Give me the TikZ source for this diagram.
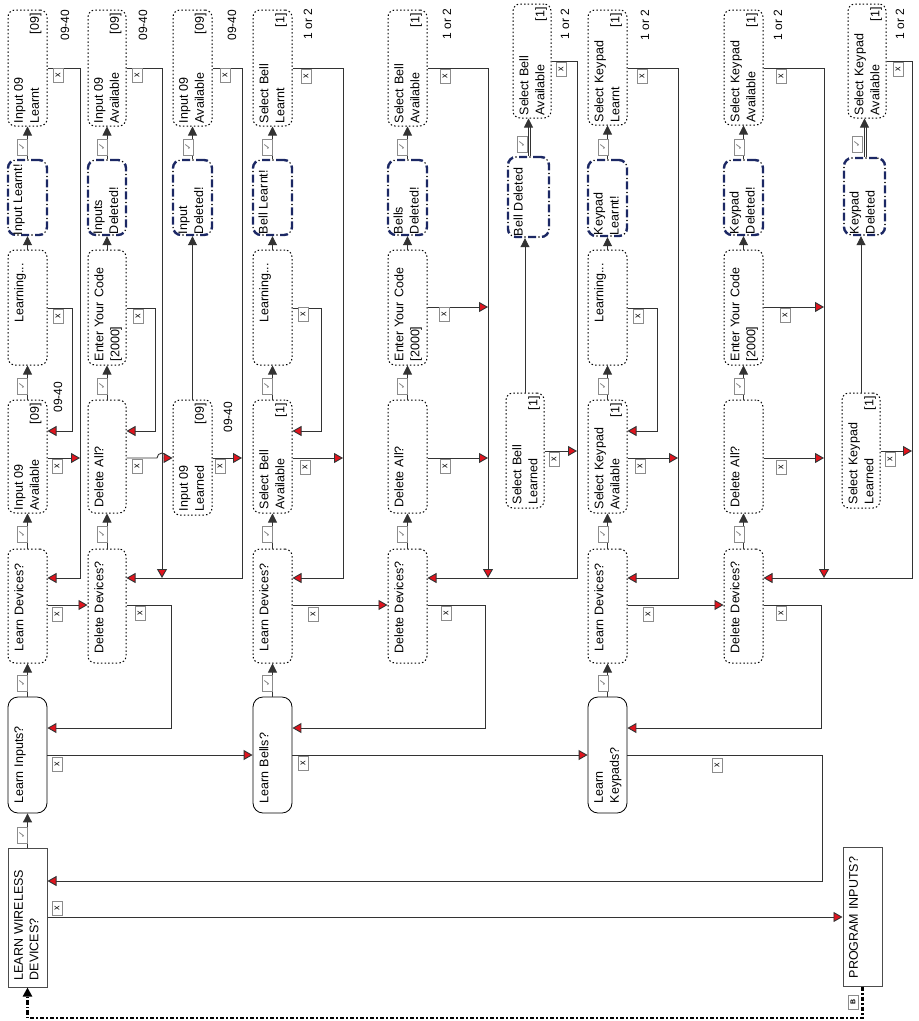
\documentclass[tikz,border=0pt]{standalone}
\usepackage{fontspec}
\usepackage{graphicx}
\setmainfont{Liberation Sans}
\newfontfamily\dejavu{DejaVu Sans}
\usetikzlibrary{arrows.meta,calc}
\definecolor{navyb}{RGB}{28,40,100}
\definecolor{arrred}{RGB}{225,20,30}
\newcounter{tg}
\newcommand\mybox[9]{%
 \pgfmathsetmacro\bw{#5-#3}\pgfmathsetmacro\bh{#6-#4}%
 \pgfmathsetmacro\cx{(#3+#5)/2}\pgfmathsetmacro\cy{(#4+#6)/2}%
 \pgfmathsetmacro\tw{#6-#4-#7-3}%
 \node[#1, minimum width=\bw pt, minimum height=\bh pt] (#2) at (\cx,\cy) {};
 \node[txt, text width=\tw pt, #8] (#2-t) at ([xshift=6.5pt,yshift=#7pt]#2.south west) {#9};}
\newcommand\tagck[2]{\stepcounter{tg}\node[ckst] (tg\thetg) at (#1,#2) {\rotatebox{90}{\dejavu\fontsize{9}{9}\selectfont ✓}};}
\newcommand\tagx[2]{\stepcounter{tg}\node[xst] (tg\thetg) at (#1,#2) {\rotatebox{90}{\fontsize{9}{9}\selectfont x}};}
\newcommand\lbl[4]{\node[lblst] (#1) at (#2,#3) {#4};}
\newcommand\rt{\hskip0pt plus1filll}
\tikzset{
 dotbox/.style={draw=black, line width=1pt, dash pattern=on 1.5pt off 2.2pt, rounded corners=7pt, inner sep=0pt},
 solbox/.style={draw=black, line width=0.8pt, rounded corners=10pt, inner sep=0pt},
 recbox/.style={draw=black!70, line width=1pt, inner sep=0pt},
 bluebox/.style={draw=navyb, line width=2.4pt, dash pattern=on 8pt off 6pt, rounded corners=8pt, inner sep=0pt,
   postaction={draw=black, line width=1.7pt, line cap=round, dash pattern=on 0pt off 14pt, dash phase=3pt}},
 txt/.style={rotate=90, anchor=north west, align=left, inner sep=0pt, font=\fontsize{12.5}{16}\selectfont},
 big/.style={font=\fontsize{12.5}{15.5}\selectfont},
 lblst/.style={rotate=90, inner sep=0pt, font=\fontsize{12}{14}\selectfont},
 ckst/.style={draw=black!45, fill=white, line width=0.6pt, inner sep=0pt, minimum width=10pt, minimum height=16pt, text=black!55},
 xst/.style={draw=black!45, fill=white, line width=0.6pt, inner sep=0pt, minimum width=10pt, minimum height=14pt},
 ln/.style={draw=black!80, line width=0.9pt},
 ra/.style={ln, -{Triangle[length=9pt,width=10pt,fill=arrred]}},
 ba/.style={ln, -{Triangle[length=9pt,width=9pt]}},
}
\begin{document}
\begin{tikzpicture}[x=1pt,y=-1pt]
\fill[white] (0,0) rectangle (919,1021);
% ---------- boxes: column A ----------
\mybox{recbox}{lw}{8}{848}{47}{987}{7}{big}{LEARN WIRELESS\\DEVICES?}
\mybox{solbox}{li}{8}{697}{47}{813}{10}{}{Learn Inputs?}
\mybox{dotbox}{ald}{8}{549}{47}{663}{12}{}{Learn Devices?}
\mybox{dotbox}{aia}{8}{400}{47}{513}{3}{}{Input 09\\Available\rt[09]}
\mybox{dotbox}{alg}{8}{250}{47}{365}{43}{}{Learning...}
\mybox{bluebox}{ail}{8}{160}{47}{235}{1}{}{\mbox{Input Learnt!}}
\mybox{dotbox}{ailt}{8}{10}{47}{126}{3}{}{Input 09\\Learnt\rt[09]}
% column A2
\mybox{dotbox}{add}{88}{549}{126}{663}{10}{}{Delete Devices?}
\mybox{dotbox}{ada}{88}{400}{126}{513}{6}{}{Delete All?}
\mybox{dotbox}{aec}{88}{250}{126}{365}{4}{}{Enter Your Code\\{}[2000]}
\mybox{bluebox}{aids}{88}{160}{126}{235}{2}{}{Inputs\\Deleted!}
\mybox{dotbox}{aia2}{88}{10}{126}{126}{3}{}{Input 09\\Available\rt[09]}
% column A3
\mybox{dotbox}{aidl}{173}{400}{212}{515}{4}{}{Input 09\\Learned\rt[09]}
\mybox{bluebox}{aid3}{173}{160}{212}{235}{2}{}{Input\\Deleted!}
\mybox{dotbox}{aia3}{173}{10}{212}{126}{3}{}{Input 09\\Available\rt[09]}
% column B
\mybox{solbox}{lb}{253}{697}{292}{813}{10}{}{Learn Bells?}
\mybox{dotbox}{bld}{253}{549}{292}{663}{12}{}{Learn Devices?}
\mybox{dotbox}{bsa}{253}{400}{292}{513}{4}{}{Select Bell\\Available\rt[1]}
\mybox{dotbox}{blg}{253}{250}{292}{365}{43}{}{Learning...}
\mybox{bluebox}{bbl}{253}{160}{292}{235}{2}{}{\mbox{Bell Learnt!}}
\mybox{dotbox}{bslt}{253}{10}{292}{126}{3}{}{Select Bell\\Learnt\rt[1]}
% column B2
\mybox{dotbox}{bdd}{388}{549}{427}{663}{10}{}{Delete Devices?}
\mybox{dotbox}{bda}{388}{400}{427}{513}{6}{}{Delete All?}
\mybox{dotbox}{bec}{388}{250}{427}{365}{4}{}{Enter Your Code\\{}[2000]}
\mybox{bluebox}{bbd}{388}{160}{427}{235}{2}{}{Bells\\Deleted!}
\mybox{dotbox}{bsa2}{388}{10}{427}{126}{3}{}{Select Bell\\Available\rt[1]}
% column B3
\mybox{dotbox}{bsl}{506}{393}{544}{508}{4}{}{Select Bell\\Learned\rt[1]}
\mybox{bluebox}{bdel}{508}{157}{549}{237}{2}{}{\mbox{Bell Deleted}}
\mybox{dotbox}{bsa3}{513}{4}{551}{118}{3}{}{Select Bell\\Available\rt[1]}
% column C
\mybox{solbox}{lk}{588}{697}{627}{813}{10}{}{Learn\\Keypads?}
\mybox{dotbox}{cld}{588}{549}{627}{663}{12}{}{Learn Devices?}
\mybox{dotbox}{csa}{588}{400}{627}{513}{4}{}{Select Keypad\\Available\rt[1]}
\mybox{dotbox}{clg}{588}{250}{627}{365}{43}{}{Learning...}
\mybox{bluebox}{ckl}{588}{160}{627}{236}{2}{}{Keypad\\Learnt!}
\mybox{dotbox}{cslt}{588}{10}{627}{125}{3}{}{Select Keypad\\Learnt\rt[1]}
% column C2
\mybox{dotbox}{cdd}{724}{549}{763}{663}{10}{}{Delete Devices?}
\mybox{dotbox}{cda}{724}{400}{763}{513}{6}{}{Delete All?}
\mybox{dotbox}{cec}{724}{250}{763}{365}{4}{}{Enter Your Code\\{}[2000]}
\mybox{bluebox}{ckd}{724}{160}{763}{235}{2}{}{Keypad\\Deleted!}
\mybox{dotbox}{csa2}{724}{10}{763}{125}{3}{}{Select Keypad\\Available\rt[1]}
% column C3
\mybox{dotbox}{csl}{842}{393}{880}{508}{4}{}{Select Keypad\\Learned\rt[1]}
\mybox{bluebox}{ckdel}{844}{158}{885}{235}{2}{}{Keypad\\Deleted}
\mybox{dotbox}{csa3}{848}{4}{886}{118}{3}{}{Select Keypad\\Available\rt[1]}
% program inputs
\mybox{recbox}{pi}{843}{847}{882}{986}{8}{big}{PROGRAM INPUTS?}
% ---------- outside labels ----------
\lbl{l1}{65}{25}{09-40}
\lbl{l2}{143}{25}{09-40}
\lbl{l3}{232}{25}{09-40}
\lbl{l4}{58}{397}{09-40}
\lbl{l5}{228}{417}{09-40}
\lbl{l6}{308}{24}{1 or 2}
\lbl{l7}{447}{24}{1 or 2}
\lbl{l8}{565}{24}{1 or 2}
\lbl{l9}{645}{25}{1 or 2}
\lbl{l10}{778}{25}{1 or 2}
\lbl{l11}{900}{24}{1 or 2}
% ---------- connectors: column A ----------
\draw[ba] (lw.north) -- (li.south);
\draw[ba] (li.north) -- (ald.south);
\draw[ba] (ald.north) -- (aia.south);
\draw[ba] (aia.north) -- (alg.south);
\draw[ba] (alg.north) -- (ail.south);
\draw[ba] (ail.north) -- (ailt.south);
\draw[ra] (li.east |- 0,755) -- (lb.west |- 0,755);
\draw[ra] (add.east |- 0,605) -- (171,605) |- (li.east |- 0,728);
\draw[ra] (ald.east |- 0,605) -- (add.west |- 0,605);
\draw[ra] (ailt.east |- 0,68) -- (80,68) |- (ald.east |- 0,578);
\draw[ra] (aia.east |- 0,458) -- (80,458);
\draw[ra] (alg.east |- 0,308) -- (72,308) |- (aia.east |- 0,431);
% column A2 / A3
\draw[ba] (add.north) -- (ada.south);
\draw[ba] (ada.north) -- (aec.south);
\draw[ba] (aec.north) -- (aids.south);
\draw[ba] (aids.north) -- (aia2.south);
\draw[ra] (aec.east |- 0,308) -- (155,308) |- (ada.east |- 0,431);
\draw[ra] (aia2.east |- 0,68) -- (162,68) -- (162,578);
\draw[ra] (aia3.east |- 0,68) -- (242,68) |- (add.east |- 0,578);
\draw[ra] (aidl.east |- 0,458) -- (242,458);
\draw[ra] (ada.east |- 0,458) -- (157,458) arc[start angle=180, end angle=360, radius=5] -- (aidl.west |- 0,458);
\draw[ba] (aidl.north) -- (aidl.north |- aid3.south);
\draw[ba] (aid3.north) -- (aia3.south);
% column B
\draw[ba] (lb.north) -- (bld.south);
\draw[ba] (bld.north) -- (bsa.south);
\draw[ba] (bsa.north) -- (blg.south);
\draw[ba] (blg.north) -- (bbl.south);
\draw[ba] (bbl.north) -- (bslt.south);
\draw[ra] (lb.east |- 0,755) -- (lk.west |- 0,755);
\draw[ra] (bdd.east |- 0,605) -- (485,605) |- (lb.east |- 0,728);
\draw[ra] (bld.east |- 0,605) -- (bdd.west |- 0,605);
\draw[ra] (bslt.east |- 0,68) -- (343,68) |- (bld.east |- 0,578);
\draw[ra] (bsa.east |- 0,458) -- (343,458);
\draw[ra] (blg.east |- 0,308) -- (321,308) |- (bsa.east |- 0,431);
% column B2 / B3
\draw[ba] (bdd.north) -- (bda.south);
\draw[ba] (bda.north) -- (bec.south);
\draw[ba] (bec.north) -- (bbd.south);
\draw[ba] (bbd.north) -- (bsa2.south);
\draw[ra] (bsa2.east |- 0,68) -- (488,68) -- (488,578);
\draw[ra] (bec.east |- 0,307) -- (488,307);
\draw[ra] (bda.east |- 0,458) -- (488,458);
\draw[ra] (bsa3.east |- 0,61) -- (577,61) |- (bdd.east |- 0,578);
\draw[ra] (bsl.east |- 0,451) -- (577,451);
\draw[ba] (bsl.north) -- (bsl.north |- bdel.south);
\draw[ba] (bdel.north) -- (bdel.north |- bsa3.south);
\draw[ln, shorten >=8pt] ([xshift=2pt]bdel.north) -- ([xshift=2pt]bdel.north |- bsa3.south);
% column C
\draw[ba] (lk.north) -- (cld.south);
\draw[ba] (cld.north) -- (csa.south);
\draw[ba] (csa.north) -- (clg.south);
\draw[ba] (clg.north) -- (ckl.south);
\draw[ba] (ckl.north) -- (cslt.south);
\draw[ra] (lk.east |- 0,755) -- (822,755) |- (lw.east |- 0,881);
\draw[ra] (cdd.east |- 0,605) -- (821,605) |- (lk.east |- 0,728);
\draw[ra] (cld.east |- 0,605) -- (cdd.west |- 0,605);
\draw[ra] (cslt.east |- 0,68) -- (678,68) |- (cld.east |- 0,578);
\draw[ra] (csa.east |- 0,458) -- (678,458);
\draw[ra] (clg.east |- 0,308) -- (657,308) |- (csa.east |- 0,431);
% column C2 / C3
\draw[ba] (cdd.north) -- (cda.south);
\draw[ba] (cda.north) -- (cec.south);
\draw[ba] (cec.north) -- (ckd.south);
\draw[ba] (ckd.north) -- (csa2.south);
\draw[ra] (csa2.east |- 0,68) -- (824,68) -- (824,578);
\draw[ra] (cec.east |- 0,307) -- (824,307);
\draw[ra] (cda.east |- 0,458) -- (824,458);
\draw[ra] (csa3.east |- 0,61) -- (912,61) |- (cdd.east |- 0,578);
\draw[ra] (csl.east |- 0,451) -- (912,451);
\draw[ba] (csl.north) -- (csl.north |- ckdel.south);
\draw[ba] (ckdel.north) -- (ckdel.north |- csa3.south);
\draw[ln, shorten >=8pt] ([xshift=2pt]ckdel.north) -- ([xshift=2pt]ckdel.north |- csa3.south);
% bottom
\draw[ra] (lw.east |- 0,917) -- (pi.west |- 0,917);
\draw[black, line width=2.2pt, dash pattern=on 4.5pt off 2pt on 1.5pt off 2pt, -{Triangle[length=9pt,width=9pt]}]
  (pi.south) -- (pi.south |- 0,1018) -| (lw.south);
% ---------- tags ----------
\tagck{22}{835}\tagck{22}{683}\tagck{22}{534}\tagck{22}{386}\tagck{22}{147}
\tagck{102}{534}\tagck{102}{386}\tagck{102}{147}
\tagck{188}{147}
\tagck{267}{683}\tagck{267}{534}\tagck{267}{386}\tagck{267}{147}
\tagck{402}{534}\tagck{402}{386}\tagck{402}{147}
\tagck{522}{144}
\tagck{603}{683}\tagck{603}{534}\tagck{603}{386}\tagck{603}{147}
\tagck{739}{534}\tagck{739}{386}\tagck{739}{147}
\tagck{857}{144}
\tagx{57}{764}\tagx{57}{614}\tagx{57}{466}\tagx{58}{316}\tagx{58}{75}
\tagx{140}{613}\tagx{137}{466}\tagx{138}{316}\tagx{137}{75}
\tagx{220}{466}\tagx{225}{75}
\tagx{303}{763}\tagx{313}{614}\tagx{305}{467}\tagx{303}{314}\tagx{306}{76}
\tagx{446}{613}\tagx{445}{466}\tagx{444}{314}\tagx{445}{76}
\tagx{554}{459}\tagx{561}{69}
\tagx{717}{765}\tagx{648}{614}\tagx{640}{466}\tagx{638}{316}\tagx{642}{76}
\tagx{781}{613}\tagx{781}{467}\tagx{785}{315}\tagx{781}{76}
\tagx{890}{459}\tagx{898}{69}
\tagx{57}{908}
\node[xst] (tgB) at (853,1002) {\rotatebox{90}{\fontsize{7}{7}\selectfont\bfseries B}};
\end{tikzpicture}
\end{document}
